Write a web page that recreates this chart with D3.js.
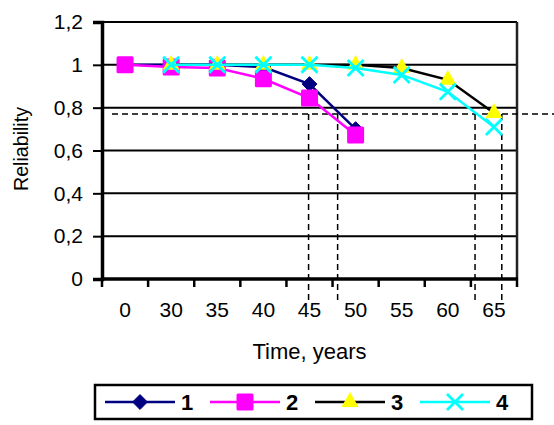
<!DOCTYPE html>
<html>
<head>
<meta charset="utf-8">
<script src="https://cdn.jsdelivr.net/npm/d3@7"></script>
<style>
  body { margin: 0; background: #fff; }
  text { font-family: "Liberation Sans", Arial, sans-serif; fill: #000; }
</style>
</head>
<body>
<div id="chart"></div>
<script>
// categories on the x axis (time, years)
const categories = ["0", "30", "35", "40", "45", "50", "55", "60", "65"];

// reliability values per series (null = no point)
const series1 = [1.0, 1.0, 1.0, 0.99, 0.91, 0.70, null, null, null];
const series2 = [1.0, 0.99, 0.985, 0.935, 0.845, 0.672, null, null, null];
const series3 = [null, 1.0, 1.0, 1.0, 1.0, 1.0, 0.985, 0.93, 0.775];
const series4 = [null, 1.0, 1.0, 1.0, 1.0, 0.985, 0.953, 0.874, 0.71];

const yTicks = [0, 0.2, 0.4, 0.6, 0.8, 1.0, 1.2];

// dashed helper lines: threshold level and crossing positions (in category index units)
const threshold = 0.77;
const crossings = [3.98, 4.61, 7.59, 8.17];

const seriesNames = ["1", "2", "3", "4"];
const seriesData = [series1, series2, series3, series4];
const lineColors = ["#000080", "#ff00ff", "#000000", "#00ffff"];
const markers = ["diamond", "square", "triangle", "cross"];
const markerFill = ["#000080", "#ff00ff", "#ffff00", "#00ffff"];

const W = 554, H = 425;
const margin = {top: 22, right: 37, bottom: 146, left: 102};

const svg = d3.select("#chart").append("svg")
    .attr("width", W)
    .attr("height", H);

const x = d3.scaleBand()
    .domain(categories)
    .range([margin.left, W - margin.right]);

// continuous position for the dashed lines, same as band centres
const xi = d3.scaleLinear()
    .domain([0, categories.length - 1])
    .range([x(categories[0]) + x.bandwidth() / 2,
            x(categories[categories.length - 1]) + x.bandwidth() / 2]);

const y = d3.scaleLinear()
    .domain([0, 1.2])
    .range([H - margin.bottom, margin.top]);

const fmt = d => String(+d.toFixed(1)).replace(".", ",");

// gridlines
svg.append("g")
  .selectAll("line")
  .data(yTicks)
  .enter().append("line")
    .attr("x1", margin.left)
    .attr("x2", W - margin.right)
    .attr("y1", d => y(d))
    .attr("y2", d => y(d))
    .attr("stroke", "#000")
    .attr("stroke-width", 2);

// right border
svg.append("line")
    .attr("x1", W - margin.right).attr("x2", W - margin.right)
    .attr("y1", y(1.2)).attr("y2", y(0))
    .attr("stroke", "#222")
    .attr("stroke-width", 2.5);

// y axis
const yAxis = svg.append("g")
    .attr("transform", "translate(" + margin.left + ",0)")
    .call(d3.axisLeft(y).tickValues(yTicks).tickFormat(fmt).tickSize(9).tickPadding(10));
yAxis.select(".domain").attr("stroke-width", 3.5);
yAxis.selectAll(".tick line").attr("stroke-width", 2);
yAxis.selectAll(".tick text")
    .style("font-size", "21px")
    .attr("font-family", null);

// x axis: ticks on band boundaries
const xAxisG = svg.append("g")
    .attr("transform", "translate(0," + y(0) + ")");
xAxisG.append("line")
    .attr("x1", margin.left - 1).attr("x2", W - margin.right + 1)
    .attr("stroke", "#000").attr("stroke-width", 3.5);
const bounds = categories.map(c => x(c)).concat([x(categories[categories.length - 1]) + x.bandwidth()]);
xAxisG.selectAll(".xt")
  .data(bounds)
  .enter().append("line")
    .attr("x1", d => d).attr("x2", d => d)
    .attr("y1", 0).attr("y2", 8)
    .attr("stroke", "#000").attr("stroke-width", 2.5);
xAxisG.selectAll(".xl")
  .data(categories)
  .enter().append("text")
    .attr("x", d => x(d) + x.bandwidth() / 2)
    .attr("y", 38)
    .attr("text-anchor", "middle")
    .style("font-size", "21px")
    .text(d => d);

// axis titles
svg.append("text")
    .attr("x", (margin.left + W - margin.right) / 2)
    .attr("y", 359)
    .attr("text-anchor", "middle")
    .style("font-size", "22px")
    .text("Time, years");

svg.append("text")
    .attr("transform", "translate(28,149) rotate(-90)")
    .attr("text-anchor", "middle")
    .style("font-size", "20px")
    .attr("textLength", 84)
    .attr("lengthAdjust", "spacingAndGlyphs")
    .text("Reliability");

// dashed helper lines
const dash = svg.append("g")
    .attr("stroke", "#000")
    .attr("stroke-width", 1.5)
    .attr("stroke-dasharray", "6,4")
    .attr("fill", "none");
dash.append("line")
    .attr("x1", 112).attr("x2", W)
    .attr("y1", y(threshold)).attr("y2", y(threshold));
dash.selectAll(".v")
  .data(crossings)
  .enter().append("line")
    .attr("x1", d => xi(d)).attr("x2", d => xi(d))
    .attr("y1", y(threshold)).attr("y2", y(0) + 24);

// marker symbols
function drawMarker(g, type, fill, size) {
  if (type === "diamond") {
    g.append("path").attr("d", d3.symbol().type(d3.symbolDiamond2).size(size * size * 0.55)())
      .attr("fill", fill).attr("stroke", fill).attr("stroke-width", 1);
  } else if (type === "square") {
    g.append("rect").attr("x", -size / 2).attr("y", -size / 2)
      .attr("width", size).attr("height", size).attr("rx", 1.5)
      .attr("fill", fill);
  } else if (type === "triangle") {
    g.append("path").attr("d", d3.symbol().type(d3.symbolTriangle).size(size * size * 0.5)())
      .attr("fill", fill);
  } else {
    const h = size / 2;
    g.append("path").attr("d", "M" + -h + "," + -h + "L" + h + "," + h + "M" + -h + "," + h + "L" + h + "," + -h)
      .attr("stroke", fill).attr("stroke-width", 2.8).attr("fill", "none");
  }
}

const line = d3.line()
    .defined(d => d.v !== null)
    .x(d => x(d.c) + x.bandwidth() / 2)
    .y(d => y(d.v));

seriesData.forEach((vals, i) => {
  const pts = vals.map((v, j) => ({c: categories[j], v: v}));
  const g = svg.append("g");
  g.append("path")
    .datum(pts)
    .attr("d", line)
    .attr("fill", "none")
    .attr("stroke", lineColors[i])
    .attr("stroke-width", 2.5);
  pts.filter(p => p.v !== null).forEach(p => {
    const m = g.append("g")
      .attr("transform", "translate(" + (x(p.c) + x.bandwidth() / 2) + "," + y(p.v) + ")");
    drawMarker(m, markers[i], markerFill[i], i === 1 ? 17 : 16);
  });
});

// legend
const legend = svg.append("g");
legend.append("rect")
    .attr("x", 95).attr("y", 385)
    .attr("width", 437).attr("height", 34)
    .attr("fill", "#fff")
    .attr("stroke", "#000")
    .attr("stroke-width", 2.5);
const itemX = [105, 210, 315, 420];
seriesNames.forEach((name, i) => {
  const gi = legend.append("g").attr("transform", "translate(" + itemX[i] + ",402)");
  gi.append("line").attr("x1", 0).attr("x2", 70)
    .attr("stroke", lineColors[i]).attr("stroke-width", 2.5);
  const m = gi.append("g").attr("transform", "translate(35,0)");
  drawMarker(m, markers[i], markerFill[i], i === 1 ? 17 : 16);
  gi.append("text")
    .attr("x", 76).attr("y", 8)
    .style("font-size", "22px")
    .style("font-weight", "bold")
    .text(name);
});
</script>
</body>
</html>
